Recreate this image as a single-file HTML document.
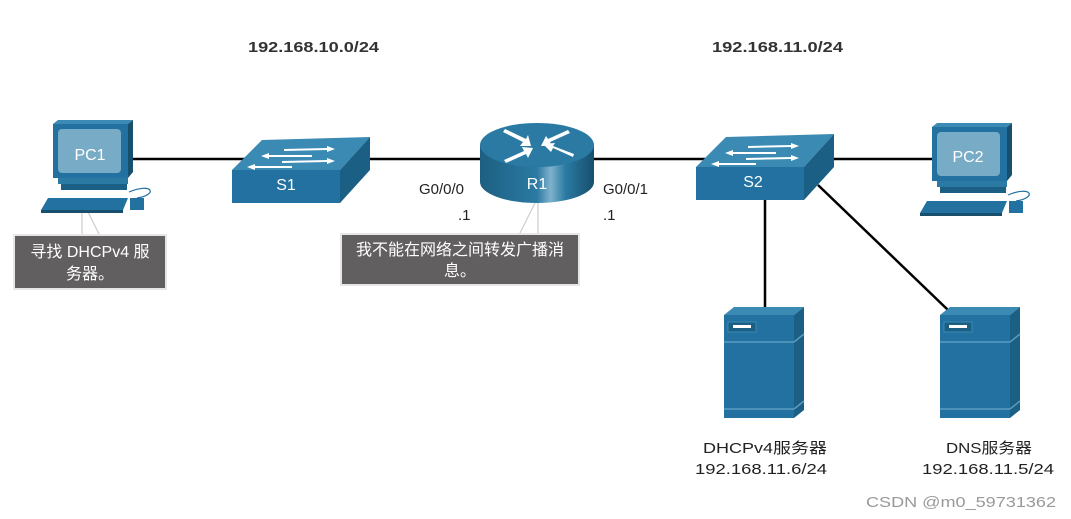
<!DOCTYPE html>
<html><head><meta charset="utf-8"><style>
html,body{margin:0;padding:0;background:#fff;width:1071px;height:519px;overflow:hidden}
svg{display:block}
text{font-family:"Liberation Sans","Noto Sans CJK SC",sans-serif}
</style></head><body>
<svg width="1071" height="519" viewBox="0 0 1071 519" xmlns="http://www.w3.org/2000/svg">
<defs>
<linearGradient id="rg" x1="0" x2="1" y1="0" y2="0">
<stop offset="0" stop-color="#1d5f82"/><stop offset="0.5" stop-color="#2a7aa3"/><stop offset="0.62" stop-color="#7fb2cc"/><stop offset="0.75" stop-color="#2a7aa3"/><stop offset="1" stop-color="#174f6d"/>
</linearGradient>
<g id="pc">
<polygon points="0,4 5,0 80,0 75,4" fill="#3a8ab3"/>
<polygon points="75,4 80,0 80,52 75,58" fill="#174f6d"/>
<rect x="0" y="4" width="75" height="54" fill="#2271a0"/>
<rect x="5" y="9" width="63" height="44" rx="4" fill="#78abc6"/>
<rect x="5" y="58" width="70" height="6" fill="#2a7aa3"/>
<rect x="8" y="64" width="66" height="6" fill="#1b5f84"/>
<polygon points="-12,90 -5,78 75,78 70,90" fill="#2271a0"/>
<polygon points="-12,90 70,90 70,93 -12,93" fill="#174f6d"/>
<rect x="77" y="78" width="14" height="12" fill="#2271a0"/>
<path d="M76,72 C100,62 105,75 84,78" stroke="#2271a0" fill="none" stroke-width="1.2"/>
</g>
<g id="sw">
<polygon points="0,33 30,3 138,0 108,33" fill="#3a8ab3"/>
<polygon points="108,33 138,0 138,33 108,66" fill="#1b5f84"/>
<rect x="0" y="33" width="108" height="33" fill="#2271a0"/>
<g fill="#fff" stroke="none">
<polygon points="52,12 95,11 95,9 103,12 95,15 95,13 52,14"/>
<polygon points="80,18 37,18 37,16 29,19 37,22 37,20 80,20"/>
<polygon points="50,24 95,23 95,21 103,24 95,27 95,25 50,26"/>
<polygon points="60,29 23,29 23,27 15,30 23,33 23,31 60,31"/>
</g>
</g>
<g id="srv">
<polygon points="0,8 10,0 80,0 70,8" fill="#3a8ab3"/>
<polygon points="70,8 80,0 80,103 70,111" fill="#1b5f84"/>
<rect x="0" y="8" width="70" height="103" fill="#2271a0"/>
<line x1="70" y1="35" x2="80" y2="27" stroke="#5a9cc0" stroke-width="1.5"/>
<line x1="0" y1="35" x2="70" y2="35" stroke="#5a9cc0" stroke-width="1.5"/>
<line x1="0" y1="102" x2="70" y2="102" stroke="#5a9cc0" stroke-width="1.5"/>
<line x1="70" y1="102" x2="80" y2="94" stroke="#5a9cc0" stroke-width="1.5"/>
<rect x="4" y="15" width="28" height="10" fill="#1b5f84" stroke="#3a8ab3"/>
<rect x="9" y="18" width="18" height="3" fill="#fff"/>
</g>
</defs>

<text x="248" y="52" font-size="15" font-weight="bold" fill="#333" textLength="131" lengthAdjust="spacingAndGlyphs">192.168.10.0/24</text>
<text x="712" y="52" font-size="15" font-weight="bold" fill="#333" textLength="131" lengthAdjust="spacingAndGlyphs">192.168.11.0/24</text>

<g stroke="#000" stroke-width="2.5">
<line x1="133" y1="159" x2="245" y2="159"/>
<line x1="365" y1="159" x2="485" y2="159"/>
<line x1="590" y1="159" x2="705" y2="159"/>
<line x1="825" y1="159" x2="935" y2="159"/>
<line x1="765" y1="198" x2="765" y2="308"/>
<line x1="818" y1="185" x2="948" y2="310"/>
</g>
<g stroke="#ccc" stroke-width="1.2">
<line x1="82" y1="212" x2="82" y2="236"/>
<line x1="88" y1="212" x2="100" y2="236"/>
<line x1="538" y1="203" x2="538" y2="233"/>
<line x1="535" y1="203" x2="520" y2="233"/>
</g>

<use href="#pc" x="53" y="120"/>
<text x="90" y="160" font-size="16" fill="#fff" text-anchor="middle">PC1</text>
<use href="#pc" x="932" y="123"/>
<text x="968" y="162" font-size="16" fill="#fff" text-anchor="middle">PC2</text>

<use href="#sw" x="232" y="137"/>
<text x="286" y="190" font-size="16" fill="#fff" text-anchor="middle">S1</text>
<use href="#sw" x="696" y="134"/>
<text x="753" y="187" font-size="16" fill="#fff" text-anchor="middle">S2</text>

<path d="M480,145 L480,182 A57,21 0 0 0 594,182 L594,145 Z" fill="url(#rg)"/>
<ellipse cx="537" cy="145" rx="57" ry="22" fill="#2a7aa3"/>
<g fill="#fff">
<polygon points="505,129 526,139 528,135 531,146 520,146 523,142 503,132"/>
<polygon points="570,133 550,142 552,146 541,146 546,136 548,139 568,130"/>
<polygon points="504,160 524,151 522,147 533,148 528,158 526,154 506,163"/>
<polygon points="573,157 553,148 551,152 543,144 555,143 553,146 574,154"/>
</g>
<text x="537" y="189" font-size="16" fill="#fff" text-anchor="middle">R1</text>

<use href="#srv" x="724" y="307"/>
<use href="#srv" x="940" y="307"/>

<g font-size="15" fill="#222">
<text x="419" y="194">G0/0/0</text>
<text x="458" y="220">.1</text>
<text x="603" y="194">G0/0/1</text>
<text x="603" y="220">.1</text>
<text x="703" y="453" textLength="124" lengthAdjust="spacingAndGlyphs">DHCPv4服务器</text>
<text x="695" y="474" textLength="132" lengthAdjust="spacingAndGlyphs">192.168.11.6/24</text>
<text x="946" y="453" textLength="86" lengthAdjust="spacingAndGlyphs">DNS服务器</text>
<text x="922" y="474" textLength="132" lengthAdjust="spacingAndGlyphs">192.168.11.5/24</text>
</g>
<text x="866" y="507" font-size="15" fill="#999" textLength="190" lengthAdjust="spacingAndGlyphs">CSDN @m0_59731362</text>

<rect x="14" y="235" width="152" height="54" fill="#625f60" stroke="#e6e6e6" stroke-width="2"/>
<text x="90" y="257" font-size="16" fill="#fff" text-anchor="middle">寻找 DHCPv4 服</text>
<text x="90" y="279" font-size="16" fill="#fff" text-anchor="middle">务器。</text>
<rect x="341" y="234" width="238" height="51" fill="#625f60" stroke="#e6e6e6" stroke-width="2"/>
<text x="460" y="255" font-size="16" fill="#fff" text-anchor="middle">我不能在网络之间转发广播消</text>
<text x="460" y="276" font-size="16" fill="#fff" text-anchor="middle">息。</text>
</svg>
</body></html>
